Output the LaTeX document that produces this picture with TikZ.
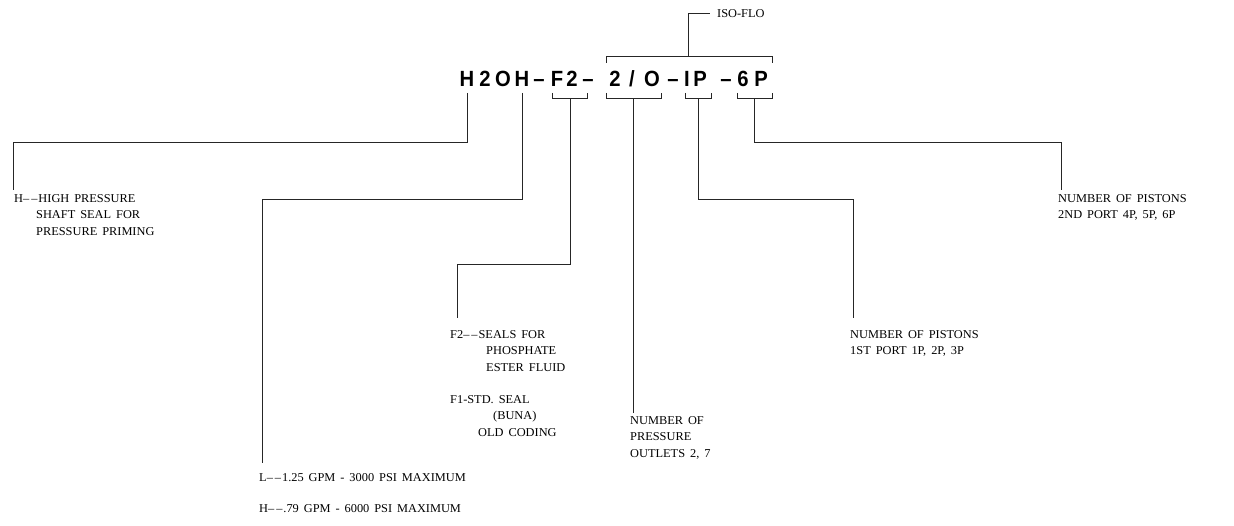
\documentclass[tikz,border=0pt]{standalone}
\usepackage{fontspec}
\setmainfont{Liberation Serif}[FakeStretch=1.03, WordSpace=1.6]
\newfontfamily\codefont{Liberation Sans}[FakeStretch=0.92]
\newcommand{\ddash}{\textendash\kern2pt\textendash\kern1pt}
\usetikzlibrary{positioning}

\begin{document}
\begin{tikzpicture}[x=1pt,y=-1pt]
    \tikzstyle{lead} = [draw=black!85, line width=1pt]
    \tikzstyle{note} = [inner sep=0pt, anchor=north west, align=left, font=\fontsize{12}{16.5}\selectfont]
    \tikzstyle{codechar} = [inner sep=0pt, anchor=base, font=\codefont\bfseries\fontsize{22}{22}\selectfont]
    \useasboundingbox (0,0) rectangle (1234,526);
    % the model code, one character at a time
    \foreach \cx/\ch [count=\i] in {467/H,485/2,503/O,522/H,539/\textendash,557/F,572/2,588/\textendash,615/2,632/{/},652/O,673/\textendash,687/I,700/P,726/\textendash,743/6,761/P}
        \node[codechar] (c\i) at (\cx,87) {\ch};
    % brackets under and over the code
    \foreach \l/\r in {552/587, 606/661, 685/711, 737/772}
        \draw[lead] (\l,93) |- (\r,99) -- (\r,93);
    \draw[lead] (606,63) |- (772,57) -- (772,63);
    \node[inner sep=0pt, anchor=west, font=\fontsize{12}{16}\selectfont] (iso) at (717,14) {ISO-FLO};
    \draw[lead] (688,57) |- ([xshift=-7pt]iso.west);
    % labels
    \node[note] (hseal) at (14,194) {H\ddash HIGH PRESSURE\\\hspace*{22pt}SHAFT SEAL FOR\\\hspace*{22pt}PRESSURE PRIMING};
    \node[note] (rate) at (259,473) {L\ddash 1.25 GPM - 3000 PSI MAXIMUM\\[15pt]H\ddash .79 GPM - 6000 PSI MAXIMUM};
    \node[note] (sealnew) at (450,330) {F2\ddash SEALS FOR\\\hspace*{36pt}PHOSPHATE\\\hspace*{36pt}ESTER FLUID};
    \node[note] (sealold) at (450,395) {F1-STD. SEAL\\\hspace*{43pt}(BUNA)\\\hspace*{28pt}OLD CODING};
    \node[note] (outlets) at (630,416) {NUMBER OF\\PRESSURE\\OUTLETS 2, 7};
    \node[note] (port1) at (850,330) {NUMBER OF PISTONS\\1ST PORT 1P, 2P, 3P};
    \node[note] (port2) at (1058,194) {NUMBER OF PISTONS\\2ND PORT 4P, 5P, 6P};
    % leaders
    \coordinate (hEnd) at (13,190);
    \coordinate (rEnd) at (262,463);
    \coordinate (sEnd) at (457,318);
    \coordinate (oEnd) at (633,413);
    \coordinate (p1End) at (853,318);
    \coordinate (p2End) at (1061,190);
    \draw[lead] (c1.south |- 0,93) |- (hEnd |- 0,143) -- (hEnd);
    \draw[lead] (c4.south |- 0,93) |- (rEnd |- 0,200) -- (rEnd);
    \draw[lead] (570,99) |- (sEnd |- 0,265) -- (sEnd);
    \draw[lead] (633,99) -- (oEnd);
    \draw[lead] (698,99) |- (p1End |- 0,200) -- (p1End);
    \draw[lead] (754,99) |- (p2End |- 0,143) -- (p2End);
\end{tikzpicture}
\end{document}
